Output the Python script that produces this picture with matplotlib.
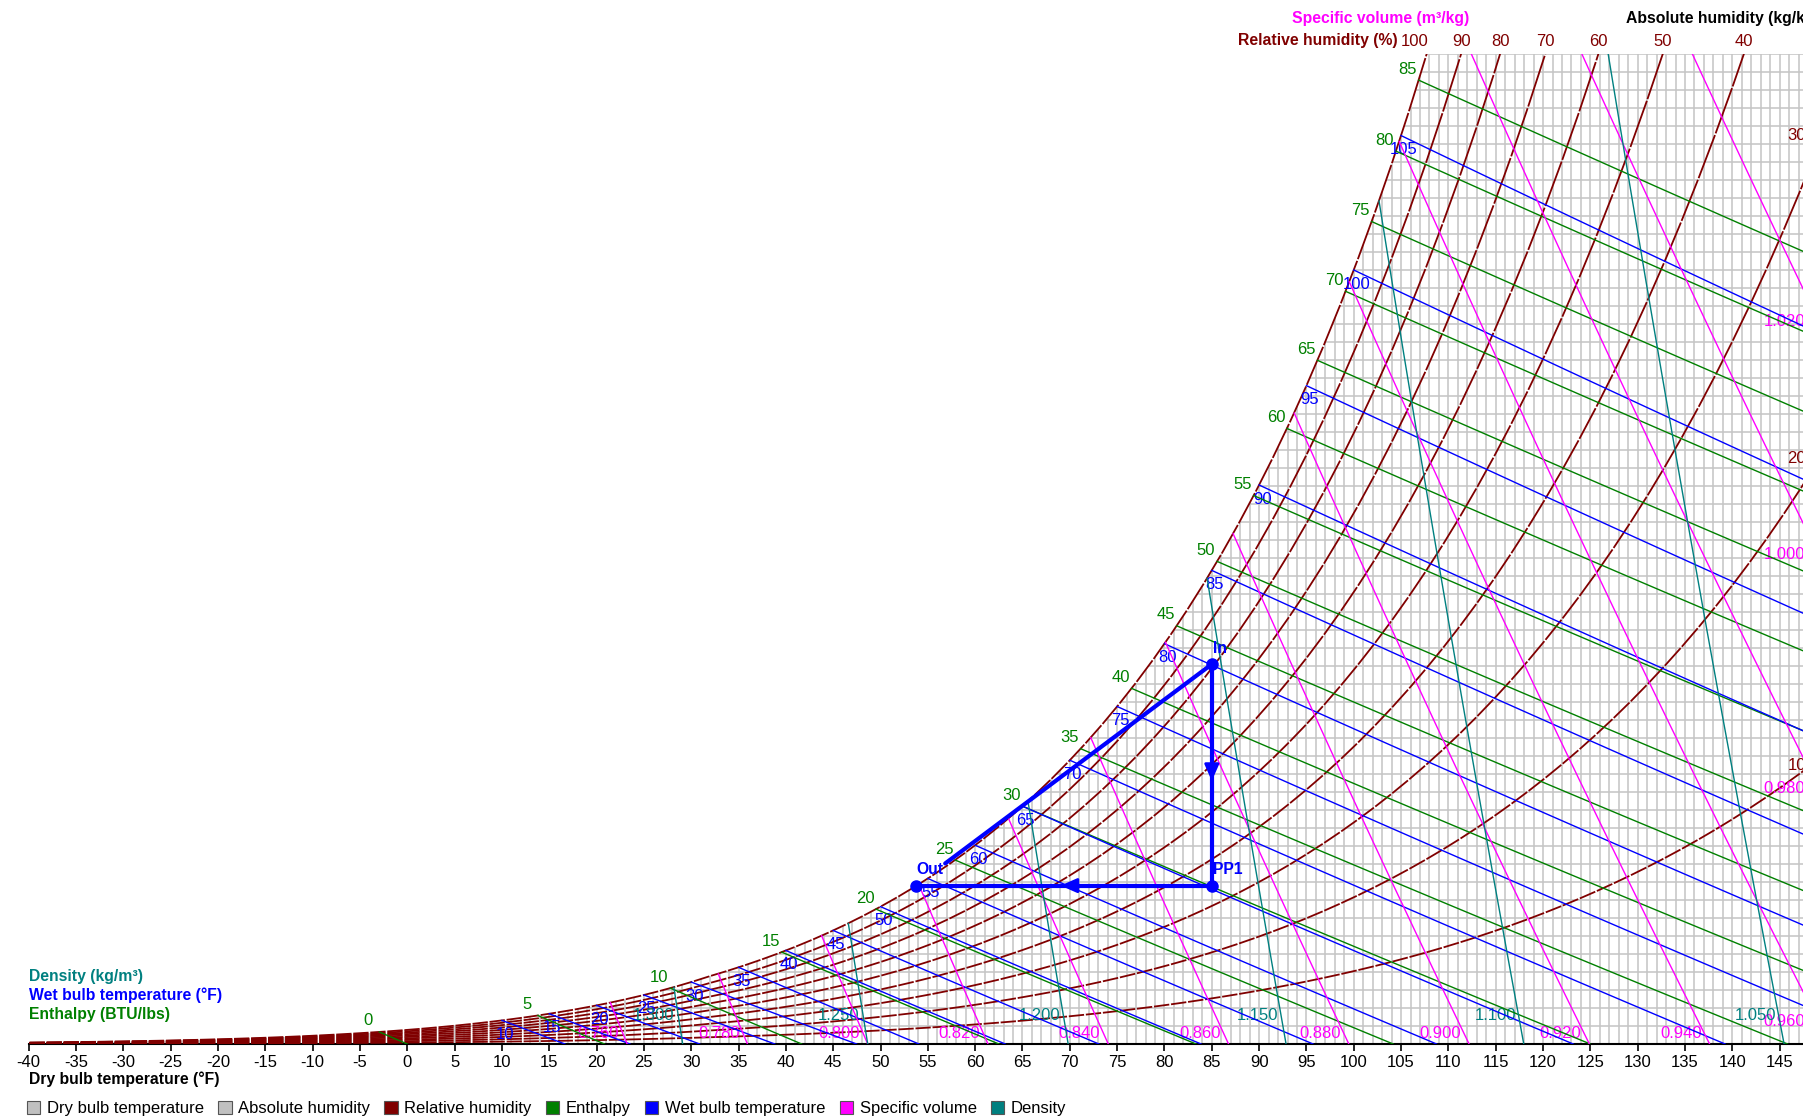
import numpy as np
import matplotlib.pyplot as plt
from matplotlib.collections import LineCollection
from matplotlib.patches import Patch

plt.rcParams['font.family'] = ['Liberation Sans', 'DejaVu Sans']
plt.rcParams['axes.unicode_minus'] = False

# chart set-up (sea level, IP temperatures, SI humidity / volume / density)
P = 101325.0
T_LO, T_HI = -40.0, 150.0
W_TOP = 0.055

rh_levels = [100, 90, 80, 70, 60, 50, 40, 30, 20, 10]
enthalpy_levels = [0, 5, 10, 15, 20, 25, 30, 35, 40, 45, 50, 55, 60, 65, 70, 75, 80, 85]
wetbulb_levels = [10, 15, 20, 25, 30, 35, 40, 45, 50, 55, 60, 65, 70, 75, 80, 85, 90, 95, 100, 105]
volume_levels = [0.76, 0.78, 0.80, 0.82, 0.84, 0.86, 0.88, 0.90, 0.92, 0.94, 0.96, 0.98, 1.00, 1.02]
density_levels = [1.30, 1.25, 1.20, 1.15, 1.10, 1.05]

# process: name, dry bulb (F), humidity ratio (kg/kg)
proc_names = ['In', 'PP1', 'Out']
proc_tdb = [85.0, 85.0, 53.7]
proc_w = [0.0211, 0.0088, 0.0088]

C_RH = '#800000'
C_H = '#008000'
C_WB = '#0000ff'
C_V = '#ff00ff'
C_RHO = '#008080'
C_GRID = '#c4c4c4'
FS = 12
FS_B = 11.3


def f2k(t):
    return (np.asarray(t, float) - 32.0) / 1.8 + 273.15


def k2f(T):
    return (np.asarray(T, float) - 273.15) * 1.8 + 32.0


def p_sat(t_f):
    T = f2k(t_f)
    ice = (-5674.5359 / T + 6.3925247 - 9.677843e-3 * T + 6.2215701e-7 * T ** 2
           + 2.0747825e-9 * T ** 3 - 9.484024e-13 * T ** 4 + 4.1635019 * np.log(T))
    water = (-5800.2206 / T + 1.3914993 - 4.8640239e-2 * T + 4.1764768e-5 * T ** 2
             - 1.4452093e-8 * T ** 3 + 6.5459673 * np.log(T))
    return np.exp(np.where(T < 273.15, ice, water))


def w_of_pv(pv):
    return 0.621945 * pv / (P - pv)


def w_sat(t_f):
    return w_of_pv(p_sat(t_f))


# lookup tables, kept below the boiling point so they stay monotonic
t_fine = np.linspace(-60, 190, 25001)
ps_fine = p_sat(t_fine)
ws_fine = w_of_pv(ps_fine)
hs_fine = 0.240 * t_fine + ws_fine * (1061 + 0.444 * t_fine)


def t_dew(w):
    return np.interp(w, ws_fine, t_fine)


fig = plt.figure(figsize=(18.03, 11.18), dpi=100)
ax = fig.add_axes([28.7 / 1803, 74 / 1118, (1827 - 28.7) / 1803, 990 / 1118])
ax.set_xlim(T_LO, T_HI)
ax.set_ylim(0, W_TOP)
for s in ['top', 'right', 'left']:
    ax.spines[s].set_visible(False)
ax.spines['bottom'].set_linewidth(1.5)
ax.set_yticks([])
ax.set_xticks(np.arange(-40, 150, 5))
ax.tick_params(axis='x', length=5, width=1.2, labelsize=FS, pad=3)

# pixel scale, used for gaps and label offsets
bb = ax.get_window_extent()
sx = bb.width / (T_HI - T_LO)
sy = bb.height / W_TOP

# grid below the saturation curve
t_grid = np.arange(-40, 151, 1)
v_segs = [[(t, 0), (t, min(w_sat(t), W_TOP))] for t in t_grid]
w_grid = np.arange(1, 56) * 0.001
h_segs = [[(t_dew(w), w), (T_HI, w)] for w in w_grid]
ax.add_collection(LineCollection(v_segs + h_segs, colors=C_GRID, linewidths=1.1, zorder=1))

# relative humidity curves, one segment per degree C
t_c = np.arange(-40, 67)
t_rh = t_c * 1.8 + 32
pv_top = W_TOP * P / (0.621945 + W_TOP)
for rh in rh_levels:
    w = w_of_pv(rh / 100 * p_sat(t_rh))
    segs = []
    for i in range(len(t_rh) - 1):
        if w[i] > W_TOP * 1.3:
            break
        x0, y0, x1, y1 = t_rh[i], w[i], t_rh[i + 1], w[i + 1]
        L = np.hypot((x1 - x0) * sx, (y1 - y0) * sy)
        f = min(0.9 / L, 0.3)
        segs.append([(x0 + f * (x1 - x0), y0 + f * (y1 - y0)),
                     (x1 - f * (x1 - x0), y1 - f * (y1 - y0))])
    ax.add_collection(LineCollection(segs, colors=C_RH, linewidths=1.3, zorder=3))
    t_cross = np.interp(pv_top / (rh / 100), ps_fine, t_fine)
    if t_cross < 147:
        dx = -12 if rh == 100 else 0
        ax.annotate(str(rh), (t_cross, W_TOP), xytext=(dx, 13), textcoords='offset pixels',
                    ha='center', va='center', color=C_RH, fontsize=FS, annotation_clip=False)
    else:
        we = w_of_pv(rh / 100 * p_sat(T_HI))
        ax.annotate(str(rh), (147.8, we), xytext=(0, -12), textcoords='offset pixels',
                    ha='right', va='center', color=C_RH, fontsize=FS, annotation_clip=False)

# enthalpy lines
for h in enthalpy_levels:
    ts = np.interp(h, hs_fine, t_fine)
    ws = w_sat(ts)
    if ws > W_TOP:
        continue
    t = np.linspace(ts, h / 0.240, 60)
    w = (h - 0.240 * t) / (1061 + 0.444 * t)
    ax.plot(t, w, color=C_H, lw=1.0, zorder=4)
    ax.annotate(str(h), (ts, ws), xytext=(-11, 11), textcoords='offset pixels',
                ha='center', va='center', color=C_H, fontsize=FS)

# wet bulb lines
for twb in wetbulb_levels:
    ws = w_sat(twb)
    if ws > W_TOP:
        continue
    if twb >= 32:
        t_end = twb + (1093 - 0.556 * twb) * ws / 0.240
        t = np.linspace(twb, t_end, 60)
        w = ((1093 - 0.556 * twb) * ws - 0.240 * (t - twb)) / (1093 + 0.444 * t - twb)
    else:
        t_end = twb + (1220 - 0.04 * twb) * ws / 0.240
        t = np.linspace(twb, t_end, 60)
        w = ((1220 - 0.04 * twb) * ws - 0.240 * (t - twb)) / (1220 + 0.444 * t - 0.48 * twb)
    ax.plot(t, w, color=C_WB, lw=1.0, zorder=4)
    ax.annotate(str(twb), (twb, ws), xytext=(3, -14), textcoords='offset pixels',
                ha='center', va='center', color=C_WB, fontsize=FS)

w_line = np.linspace(0, W_TOP, 3000)

# specific volume lines
for v in volume_levels:
    t = k2f(v * P / (287.042 * (1 + 1.607858 * w_line)))
    keep = w_line <= w_sat(t)
    ax.plot(t[keep], w_line[keep], color=C_V, lw=1.0, zorder=4)
    foot = t[0]
    if foot < 147:
        ax.annotate('%.3f' % v, (foot, 0), xytext=(-8, 10), textcoords='offset pixels',
                    ha='right', va='center', color=C_V, fontsize=FS)
    else:
        we = (v * P / (287.042 * f2k(149.6)) - 1) / 1.607858
        ax.annotate('%.3f' % v, (147.7, we), xytext=(0, 9), textcoords='offset pixels',
                    ha='right', va='center', color=C_V, fontsize=FS, annotation_clip=False)

# density lines
for rho in density_levels:
    t = k2f(P * (1 + w_line) / (287.042 * rho * (1 + 1.607858 * w_line)))
    keep = w_line <= w_sat(t)
    ax.plot(t[keep], w_line[keep], color=C_RHO, lw=1.0, zorder=4)
    ax.annotate('%.3f' % rho, (t[0], 0), xytext=(-8, 29), textcoords='offset pixels',
                ha='right', va='center', color=C_RHO, fontsize=FS)

# process path
ax.plot(proc_tdb[:2], proc_w[:2], color=C_WB, lw=3, zorder=8, solid_capstyle='round')
ax.plot(proc_tdb[1:], proc_w[1:], color=C_WB, lw=3, zorder=8, solid_capstyle='round')
t_ret = proc_tdb[2] + 0.1 * (proc_tdb[0] - proc_tdb[2])
w_ret = proc_w[2] + 0.1 * (proc_w[0] - proc_w[2])
ax.plot([t_ret, proc_tdb[0]], [w_ret, proc_w[0]], color=C_WB, lw=3, zorder=8,
        solid_capstyle='round')
ax.plot(proc_tdb, proc_w, 'o', color=C_WB, ms=8, zorder=9)
for a, b in [(0, 1), (1, 2)]:
    xm = (proc_tdb[a] + proc_tdb[b]) / 2
    ym = (proc_w[a] + proc_w[b]) / 2
    dx = (proc_tdb[b] - proc_tdb[a]) * 0.02
    dy = (proc_w[b] - proc_w[a]) * 0.04
    ax.annotate('', xy=(xm + dx, ym + dy), xytext=(xm - dx, ym - dy),
                arrowprops=dict(arrowstyle='-|>,head_length=0.5,head_width=0.22',
                                color=C_WB, lw=2, mutation_scale=20), zorder=9)
for n, t, w in zip(proc_names, proc_tdb, proc_w):
    ax.annotate(n, (t, w), xytext=(1, 16), textcoords='offset pixels', ha='left',
                va='center', color=C_WB, fontsize=FS_B, fontweight='bold', zorder=10)

# titles around the chart
fig.text(1381 / 1803, 1 - 18 / 1118, 'Specific volume (m³/kg)', color=C_V,
         fontsize=FS_B, fontweight='bold', ha='center', va='center')
fig.text(1626 / 1803, 1 - 18 / 1118, 'Absolute humidity (kg/kg)', color='black',
         fontsize=FS_B, fontweight='bold', ha='left', va='center')
fig.text(1398 / 1803, 1 - 41 / 1118, 'Relative humidity (%)', color=C_RH,
         fontsize=FS_B, fontweight='bold', ha='right', va='center')
fig.text(29 / 1803, 1 - 976 / 1118, 'Density (kg/m³)', color=C_RHO,
         fontsize=FS_B, fontweight='bold', ha='left', va='center')
fig.text(29 / 1803, 1 - 995 / 1118, 'Wet bulb temperature (°F)', color=C_WB,
         fontsize=FS_B, fontweight='bold', ha='left', va='center')
fig.text(29 / 1803, 1 - 1014 / 1118, 'Enthalpy (BTU/lbs)', color=C_H,
         fontsize=FS_B, fontweight='bold', ha='left', va='center')
fig.text(29 / 1803, 1 - 1079 / 1118, 'Dry bulb temperature (°F)', color='black',
         fontsize=FS_B, fontweight='bold', ha='left', va='center')

legend_items = [('Dry bulb temperature', '#c0c0c0'), ('Absolute humidity', '#c0c0c0'),
                ('Relative humidity', C_RH), ('Enthalpy', C_H),
                ('Wet bulb temperature', C_WB), ('Specific volume', C_V), ('Density', C_RHO)]
handles = [Patch(facecolor=c, edgecolor='#555555', lw=0.8, label=l) for l, c in legend_items]
fig.legend(handles=handles, loc='center left', bbox_to_anchor=(27 / 1803, 1 - 1108.5 / 1118),
           ncol=7, frameon=False, fontsize=FS, handlelength=0.8, handleheight=0.8,
           handletextpad=0.4, columnspacing=0.85, borderaxespad=0, borderpad=0)

fig.savefig('out.png', dpi=100)
